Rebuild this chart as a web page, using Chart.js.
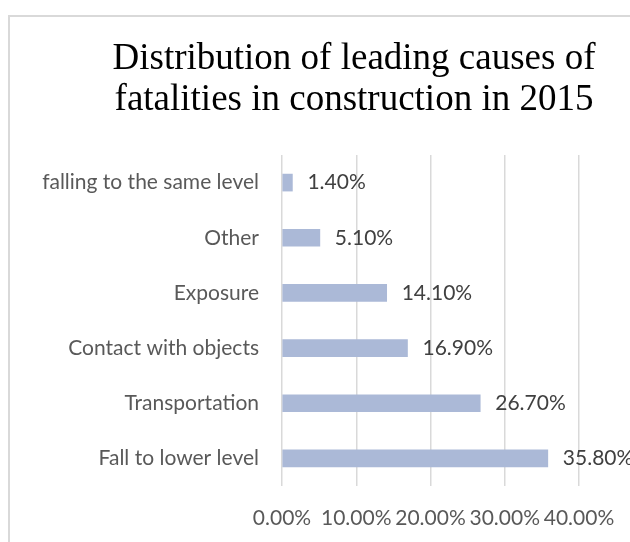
<!DOCTYPE html>
<html>
<head>
<meta charset="utf-8">
<script src="https://cdn.jsdelivr.net/npm/chart.js@4.4.8/dist/chart.umd.min.js"></script>
<style>
  html, body { margin: 0; padding: 0; background: #fff; overflow: hidden; }
  #frame { position: absolute; left: 8px; top: 15px; width: 700px; height: 600px; border: 2px solid #d9d9d9; }
  #wrap { position: absolute; left: 0; top: 0; width: 630px; height: 542px; }
</style>
</head>
<body>
<div id="frame"></div>
<div id="wrap"><canvas id="chart" width="630" height="542"></canvas></div>
<script>
/*  Data  */

const causes = [
    'falling to the same level',
    'Other',
    'Exposure',
    'Contact with objects',
    'Transportation',
    'Fall to lower level'
];
const shares = [1.4, 5.1, 14.1, 16.9, 26.7, 35.8];
const axisMax = 40;
const axisStep = 10;

const titleLines = ['Distribution of leading causes of', 'fatalities in construction in 2015'];

const LABEL_FONT = { family: 'Lato', size: 21 };


/*  Plugins  */

// two-line serif title, drawn above the plot
const chartTitle = {
    id: 'chartTitle',
    afterDraw(chart) {
        const ctx = chart.ctx;
        ctx.save();
        ctx.font = '37px "Liberation Serif"';
        ctx.fillStyle = '#000';
        ctx.textAlign = 'center';
        ctx.textBaseline = 'alphabetic';
        ctx.fillText(titleLines[0], 354, 69);
        ctx.fillText(titleLines[1], 354, 110);
        ctx.restore();
    }
};

// value labels just after the end of each bar
const barValues = {
    id: 'barValues',
    afterDatasetsDraw(chart) {
        const ctx = chart.ctx;
        const meta = chart.getDatasetMeta(0);
        ctx.save();
        ctx.font = LABEL_FONT.size + 'px ' + LABEL_FONT.family;
        ctx.fillStyle = '#404040';
        ctx.textAlign = 'left';
        ctx.textBaseline = 'middle';
        meta.data.forEach(function(bar, i) {
            ctx.fillText(shares[i].toFixed(2) + '%', bar.x + 15, bar.y);
        });
        ctx.restore();
    }
};


/*  Chart  */

const ctx = document.getElementById('chart').getContext('2d');

new Chart(ctx, {
    type: 'bar',
    data: {
        labels: causes,
        datasets: [{
            data: shares,
            backgroundColor: '#abb9d7',
            borderWidth: 0,
            barThickness: 17
        }]
    },
    options: {
        indexAxis: 'y',
        responsive: false,
        animation: false,
        layout: { padding: { left: 0, right: 51, top: 155, bottom: 0 } },
        plugins: {
            legend: { display: false },
            tooltip: { enabled: false },
            title: { display: false }
        },
        scales: {
            x: {
                min: 0,
                max: axisMax,
                ticks: {
                    stepSize: axisStep,
                    color: '#595959',
                    font: LABEL_FONT,
                    padding: 20,
                    maxRotation: 0,
                    autoSkip: false,
                    callback: function(v) { return v.toFixed(2) + '%'; }
                },
                grid: { color: '#d9d9d9', lineWidth: 1.5, drawTicks: false },
                border: { display: false },
                afterFit: function(scale) {
                    scale.height = 56;
                    scale.paddingLeft = 0;
                    scale.paddingRight = 0;
                }
            },
            y: {
                ticks: {
                    color: '#595959',
                    font: LABEL_FONT,
                    padding: 23
                },
                grid: { display: false, drawTicks: false },
                border: { display: false },
                afterFit: function(scale) { scale.width = 282; }
            }
        }
    },
    plugins: [barValues, chartTitle]
});
</script>
</body>
</html>
